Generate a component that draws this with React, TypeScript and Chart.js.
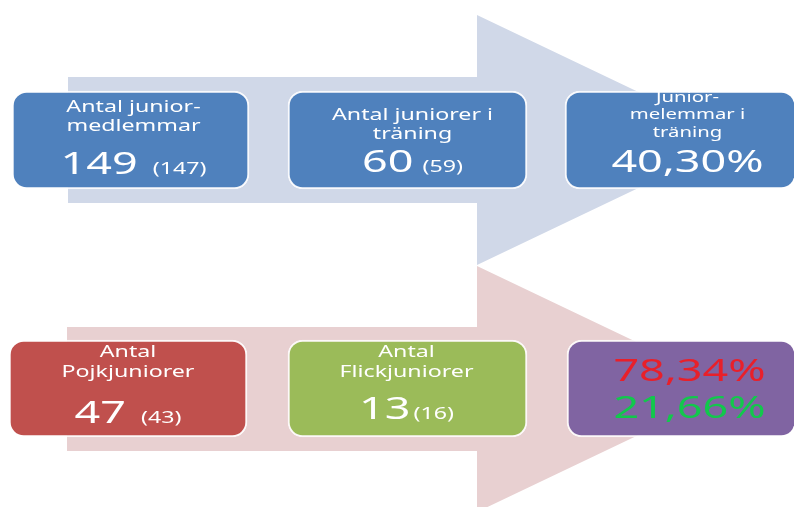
import React, { useEffect, useRef } from "react";
import { Chart, registerables } from "chart.js";

Chart.register(...registerables);

// ---------- DATA ----------
const memberTitles = ["Antal junior-\nmedlemmar", "Antal juniorer i\nträning", "Junior-\nmelemmar i\nträning"];
const memberCounts = [149, 60];
const memberPrevCounts = [147, 59];
const trainingSharePct = 40.3;

const genderTitles = ["Antal\nPojkjuniorer", "Antal\nFlickjuniorer"];
const genderCounts = [47, 13];
const genderPrevCounts = [43, 16];
const genderSharePct = [78.34, 21.66];

// ---------- LAYOUT (positions / sizes, in canvas px units) ----------
const W = 794;
const H = 507;
const rowCenters = [140, 388.5];
const rowHeights = [98, 97];
const boxSpans = [
  [[12, 249], [288, 527], [565, 796]],
  [[9, 247], [288, 527], [567, 796]],
];
const arrowShapes = [
  [[68, 77], [477, 77], [477, 15], [739, 140], [477, 265], [477, 203], [68, 203]],
  [[67, 327], [477, 327], [477, 266], [735, 389], [477, 512], [477, 451], [67, 451]],
];

// ---------- STYLES ----------
const FONT = '"Noto Sans", "Open Sans", sans-serif';
const STRETCH = 1.45;
const arrowColors = ["#D0D8E8", "#E8D0D1"];
const boxColors = [
  ["#4F81BD", "#4F81BD", "#4F81BD"],
  ["#C0504D", "#9BBB59", "#8064A2"],
];
const RED_TEXT = "#E8202A";
const GREEN_TEXT = "#12C84C";

const fmtPct = (v: number) => v.toFixed(2).replace(".", ",") + "%";

type Part = { text: string; size: number; color: string; gapBefore?: number };
type Line = { parts: Part[]; baseline: number };
type Box = { titles: string[]; titleSize: number; titleBaselines: number[]; lines: Line[]; dx: number };

const countLine = (n: number, prev: number, baseline: number, gap: number): Line => ({
  baseline,
  parts: [
    { text: String(n), size: 31, color: "#fff" },
    { text: "(" + prev + ")", size: 16, color: "#fff", gapBefore: gap },
  ],
});

const boxes: Box[][] = [
  [
    {
      titles: memberTitles[0].split("\n"), titleSize: 16, titleBaselines: [21, 40],
      lines: [countLine(memberCounts[0], memberPrevCounts[0], 83, 15)], dx: 3,
    },
    {
      titles: memberTitles[1].split("\n"), titleSize: 16, titleBaselines: [29, 48],
      lines: [countLine(memberCounts[1], memberPrevCounts[1], 81, 9)], dx: 5,
    },
    {
      titles: memberTitles[2].split("\n"), titleSize: 14, titleBaselines: [11, 28, 46],
      lines: [{ baseline: 81, parts: [{ text: fmtPct(trainingSharePct), size: 31, color: "#fff" }] }], dx: 7,
    },
  ],
  [
    {
      titles: genderTitles[0].split("\n"), titleSize: 16, titleBaselines: [17, 37],
      lines: [countLine(genderCounts[0], genderPrevCounts[0], 83, 15)], dx: 0,
    },
    {
      titles: genderTitles[1].split("\n"), titleSize: 16, titleBaselines: [17, 37],
      lines: [countLine(genderCounts[1], genderPrevCounts[1], 79, 3)], dx: -1,
    },
    {
      titles: [], titleSize: 16, titleBaselines: [],
      lines: [
        { baseline: 41, parts: [{ text: fmtPct(genderSharePct[0]), size: 31, color: RED_TEXT }] },
        { baseline: 78, parts: [{ text: fmtPct(genderSharePct[1]), size: 31, color: GREEN_TEXT }] },
      ],
      dx: 8,
    },
  ],
];

const textPlugin = {
  id: "boxText",
  afterDatasetsDraw(chart: any) {
    const ctx: CanvasRenderingContext2D = chart.ctx;
    boxes.forEach((row, r) => {
      const meta = chart.getDatasetMeta(arrowShapes.length + r);
      meta.data.forEach((bar: any, i: number) => {
        const box = row[i];
        if (!box) return;
        const { x, base, y, height } = bar.getProps(["x", "base", "y", "height"], true);
        const cx = (Math.min(x, base) + Math.max(x, base)) / 2 + box.dx;
        const top = y - height / 2;
        ctx.save();
        ctx.textBaseline = "alphabetic";
        box.titles.forEach((t, k) => {
          ctx.save();
          ctx.font = `${box.titleSize}px ${FONT}`;
          ctx.fillStyle = "#fff";
          ctx.textAlign = "center";
          ctx.translate(cx, top + box.titleBaselines[k]);
          ctx.scale(STRETCH, 1);
          ctx.fillText(t, 0, 0);
          ctx.restore();
        });
        box.lines.forEach((ln) => {
          const widths = ln.parts.map((p) => {
            ctx.font = `${p.size}px ${FONT}`;
            return ctx.measureText(p.text).width * STRETCH + (p.gapBefore || 0);
          });
          const total = widths.reduce((a, b) => a + b, 0);
          let px = cx - total / 2;
          ln.parts.forEach((p, k) => {
            px += p.gapBefore || 0;
            ctx.save();
            ctx.font = `${p.size}px ${FONT}`;
            ctx.fillStyle = p.color;
            ctx.textAlign = "left";
            ctx.translate(px, top + ln.baseline);
            ctx.scale(STRETCH, 1);
            ctx.fillText(p.text, 0, 0);
            ctx.restore();
            px += widths[k] - (p.gapBefore || 0);
          });
        });
        ctx.restore();
      });
    });
  },
};

export default function App() {
  const ref = useRef<HTMLCanvasElement | null>(null);
  useEffect(() => {
    if (!ref.current) return;
    const arrowSets: any[] = arrowShapes.map((shape, k) => ({
      type: "line",
      data: shape.map(([x, y]) => ({ x, y })),
      fill: "shape",
      backgroundColor: arrowColors[k],
      borderColor: "rgba(0,0,0,0)",
      borderWidth: 0,
      pointRadius: 0,
      tension: 0,
      order: 2,
    }));
    const boxSets: any[] = boxSpans.map((row, r) => ({
      type: "bar",
      indexAxis: "y",
      data: row.map(([a, b]) => ({ y: rowCenters[r], x: [a, b] })),
      backgroundColor: boxColors[r],
      borderColor: "rgba(255,255,255,0.85)",
      borderWidth: 2,
      borderRadius: 15,
      borderSkipped: false,
      barThickness: rowHeights[r],
      grouped: false,
      order: 1,
    }));
    const chart = new Chart(ref.current, {
      type: "scatter",
      data: { datasets: [...arrowSets, ...boxSets] },
      options: {
        responsive: false,
        animation: false,
        events: [],
        layout: { padding: 0, autoPadding: false },
        scales: {
          x: { type: "linear", min: 0, max: W, display: false, offset: false, grace: 0 },
          y: { type: "linear", min: 0, max: H, reverse: true, display: false, offset: false, grace: 0 },
        },
        plugins: { legend: { display: false }, tooltip: { enabled: false } },
      } as any,
      plugins: [textPlugin],
    } as any);
    return () => chart.destroy();
  }, []);
  return (
    <div style={{ position: "fixed", left: 0, top: 0, width: W, height: H, background: "#fff" }}>
      <canvas ref={ref} width={W} height={H} style={{ width: W, height: H, display: "block" }} />
    </div>
  );
}
